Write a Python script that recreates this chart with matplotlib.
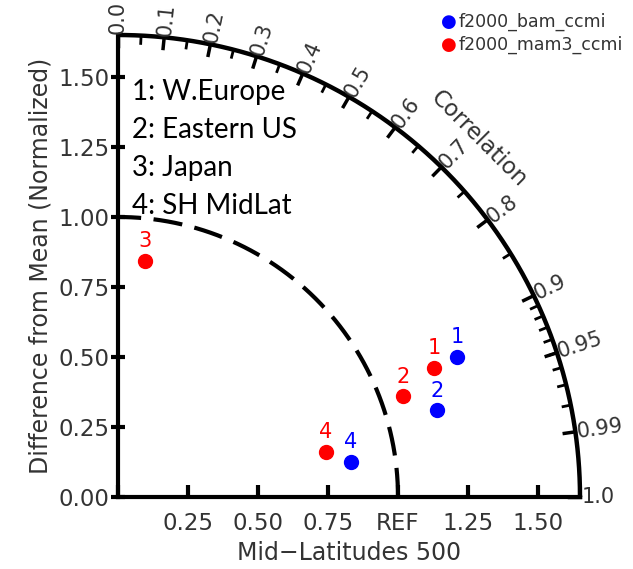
import numpy as np
import matplotlib
matplotlib.use("Agg")
import matplotlib.pyplot as plt

# Taylor diagram values (normalized std, correlation)
regions = ["W.Europe", "Eastern US", "Japan", "SH MidLat"]
bam_ids = ["1", "2", "4"]
bam_std = [1.31, 1.18, 0.84]
bam_corr = [0.924, 0.965, 0.989]
mam3_ids = ["1", "2", "3", "4"]
mam3_std = [1.22, 1.08, 0.85, 0.76]
mam3_corr = [0.926, 0.943, 0.113, 0.977]

corr_major = [0.0, 0.1, 0.2, 0.3, 0.4, 0.5, 0.6, 0.7, 0.8, 0.9, 0.95, 0.99, 1.0]
corr_minor = list(np.arange(0.05, 0.9, 0.1)) + list(np.arange(0.91, 0.99, 0.01))
std_ticks = [0.0, 0.25, 0.5, 0.75, 1.0, 1.25, 1.5]
x_ticklabels = ["", "0.25", "0.50", "0.75", "REF", "1.25", "1.50"]
y_ticklabels = ["0.00", "0.25", "0.50", "0.75", "1.00", "1.25", "1.50"]
rmax = 1.65
grey = "#333333"

fig = plt.figure(figsize=(6.33, 5.69), dpi=100)
ax = fig.add_axes([118 / 633, 72 / 569, 462 / 633, 462 / 569])
ax.set_xlim(0, rmax)
ax.set_ylim(0, rmax)
ax.set_aspect("equal")
for s in ["top", "right"]:
    ax.spines[s].set_visible(False)
for s in ["left", "bottom"]:
    ax.spines[s].set_linewidth(3)

ax.set_xticks(std_ticks)
ax.set_xticklabels(x_ticklabels)
ax.set_yticks(std_ticks)
ax.set_yticklabels(y_ticklabels)
ax.tick_params(axis="x", direction="in", length=9, width=3, pad=11, labelsize=16.5)
ax.tick_params(axis="y", direction="inout", length=10, width=3, pad=1, labelsize=16.5)
for lab in ax.get_xticklabels() + ax.get_yticklabels():
    lab.set_color(grey)
ax.set_xlabel("Mid\u2212Latitudes 500", fontsize=17, color=grey, labelpad=4)
ax.set_ylabel("Difference from Mean (Normalized)", fontsize=17, color=grey, labelpad=4)

# outer arc and reference arc
th = np.linspace(0, np.pi / 2, 300)
ax.plot(rmax * np.cos(th), rmax * np.sin(th), color="black", lw=3.2, clip_on=False,
        solid_capstyle="butt")
ax.plot(np.cos(th), np.sin(th), color="black", lw=3, ls=(0, (7, 3)), clip_on=False)

# correlation ticks
for c in corr_major:
    t = np.arccos(c)
    ax.plot([rmax * np.cos(t), (rmax - 0.04) * np.cos(t)],
            [rmax * np.sin(t), (rmax - 0.04) * np.sin(t)], color="black", lw=2.5, clip_on=False)
    lbl = f"{c:.1f}" if c in (0.0, 1.0) else f"{c:g}"
    ax.text((rmax + 0.005) * np.cos(t), (rmax + 0.005) * np.sin(t), lbl,
            rotation=np.degrees(t), rotation_mode="anchor", ha="left", va="center",
            fontsize=15, color=grey)
for c in corr_minor:
    t = np.arccos(c)
    ax.plot([rmax * np.cos(t), (rmax - 0.028) * np.cos(t)],
            [rmax * np.sin(t), (rmax - 0.028) * np.sin(t)], color="black", lw=2, clip_on=False)
ax.text(1.29, 1.28, "Correlation", rotation=-45, ha="center", va="center",
        fontsize=16.5, color=grey)

# points
for ids, std, corr, col in [(bam_ids, bam_std, bam_corr, "blue"),
                            (mam3_ids, mam3_std, mam3_corr, "red")]:
    t = np.arccos(np.array(corr))
    x = np.array(std) * np.cos(t)
    y = np.array(std) * np.sin(t)
    ax.plot(x, y, "o", color=col, ms=10, clip_on=False)
    for i, xi, yi in zip(ids, x, y):
        ax.annotate(i, (xi, yi), xytext=(0, 7), textcoords="offset points",
                    ha="center", va="bottom", fontsize=15, color=col)

# region list
for k, name in enumerate(regions):
    ax.text(0.05, 1.445 - k * 0.135, f"{k + 1}: {name}", fontsize=20, family="Lato",
            ha="left", va="center", color="black")

# legend
for k, (name, col) in enumerate([("f2000_bam_ccmi", "blue"), ("f2000_mam3_ccmi", "red")]):
    yy = 1 - (22 + k * 23) / 569
    fig.text(449 / 633, yy, "\u25cf", color=col, fontsize=13, ha="center", va="center")
    fig.text(459 / 633, yy, name, color=grey, fontsize=12.5, ha="left", va="center")

fig.savefig("out.png", dpi=100)
